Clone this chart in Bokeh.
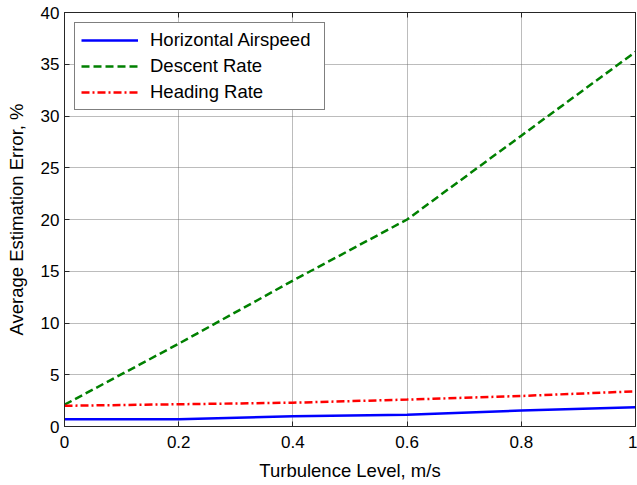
from bokeh.plotting import figure
from bokeh.models import (LinearAxis, FixedTicker, CustomJSTickFormatter, Range1d,
                          Legend, LegendItem)
from bokeh.embed import file_html
from bokeh.resources import INLINE

# Data
turbulence = [0.0, 0.2, 0.4, 0.6, 0.8, 1.0]
horizontal_airspeed = [0.7, 0.7, 1.0, 1.13, 1.55, 1.85]
descent_rate = [2.1, 8.0, 14.1, 20.0, 28.1, 36.2]
heading_rate = [2.0, 2.15, 2.3, 2.6, 2.95, 3.4]
x_ticks = [0, 0.2, 0.4, 0.6, 0.8, 1.0]
y_ticks = [0, 5, 10, 15, 20, 25, 30, 35, 40]

FONT = "Liberation Sans"

p = figure(width=637, height=485, output_backend="svg", toolbar_location=None,
           x_range=Range1d(0, 1), y_range=Range1d(0, 40),
           min_border_left=64, min_border_right=2, min_border_top=12,
           min_border_bottom=59)
p.background_fill_color = "white"
p.border_fill_color = "white"
p.outline_line_color = "#262626"
p.outline_line_width = 1

fmt = CustomJSTickFormatter(code="return String(Math.round(tick*10)/10);")
blank = CustomJSTickFormatter(code="return '';")

for ax in p.xaxis + p.yaxis:
    ax.major_tick_in = 5
    ax.major_tick_out = 0
    ax.minor_tick_in = 0
    ax.minor_tick_out = 0
    ax.axis_line_color = "#262626"
    ax.major_tick_line_color = "#262626"
    ax.major_label_text_font = FONT
    ax.major_label_text_font_size = "17px"
    ax.major_label_text_color = "black"
    ax.axis_label_text_font = FONT
    ax.axis_label_text_font_size = "18.5px"
    ax.axis_label_text_font_style = "normal"
    ax.axis_label_text_color = "black"

p.xaxis.ticker = FixedTicker(ticks=x_ticks)
p.xaxis.formatter = fmt
p.yaxis.ticker = FixedTicker(ticks=y_ticks)
p.xaxis.axis_label = "Turbulence Level, m/s"
p.yaxis.axis_label = "Average Estimation Error, %"
p.xaxis.major_label_standoff = 9
p.yaxis.major_label_standoff = 5
p.xaxis.axis_label_standoff = 9
p.yaxis.axis_label_standoff = 11

# top and right axes with ticks only
top = LinearAxis(ticker=FixedTicker(ticks=x_ticks), formatter=blank,
                 major_label_text_color=None,
                 major_tick_in=5, major_tick_out=0, minor_tick_in=0, minor_tick_out=0,
                 major_label_standoff=0, axis_line_color="#262626",
                 major_tick_line_color="#262626")
right = LinearAxis(ticker=FixedTicker(ticks=y_ticks), formatter=blank,
                   major_label_text_color=None,
                   major_tick_in=5, major_tick_out=0, minor_tick_in=0, minor_tick_out=0,
                   major_label_standoff=0, axis_line_color="#262626",
                   major_tick_line_color="#262626")
p.add_layout(top, "above")
p.add_layout(right, "right")

for g in (p.xgrid, p.ygrid):
    g.grid_line_color = "#6a6a6a"
    g.grid_line_dash = "1 1"
    g.grid_line_width = 1
    g.grid_line_alpha = 0.9
p.xgrid.ticker = FixedTicker(ticks=x_ticks)
p.ygrid.ticker = FixedTicker(ticks=y_ticks)

r1 = p.line(turbulence, horizontal_airspeed, line_color="#0000ff", line_width=2.5)
r2 = p.line(turbulence, descent_rate, line_color="#008000", line_width=2.5,
            line_dash="8 4")
r3 = p.line(turbulence, heading_rate, line_color="#ff0000", line_width=2.5,
            line_dash="8 3 2 3")

legend = Legend(items=[
    LegendItem(label="Horizontal Airspeed", renderers=[r1]),
    LegendItem(label="Descent Rate", renderers=[r2]),
    LegendItem(label="Heading Rate", renderers=[r3]),
], location="top_left")
legend.margin = 10
legend.padding = 6
legend.spacing = 4
legend.glyph_width = 57
legend.glyph_height = 22
legend.label_standoff = 12
legend.label_text_font = FONT
legend.label_text_font_size = "18.5px"
legend.label_text_color = "black"
legend.label_height = 22
legend.label_width = 168
legend.border_line_color = "black"
legend.border_line_width = 1.5
legend.background_fill_color = "white"
legend.background_fill_alpha = 1
p.add_layout(legend)

open("out.html", "w").write(file_html(p, INLINE))
